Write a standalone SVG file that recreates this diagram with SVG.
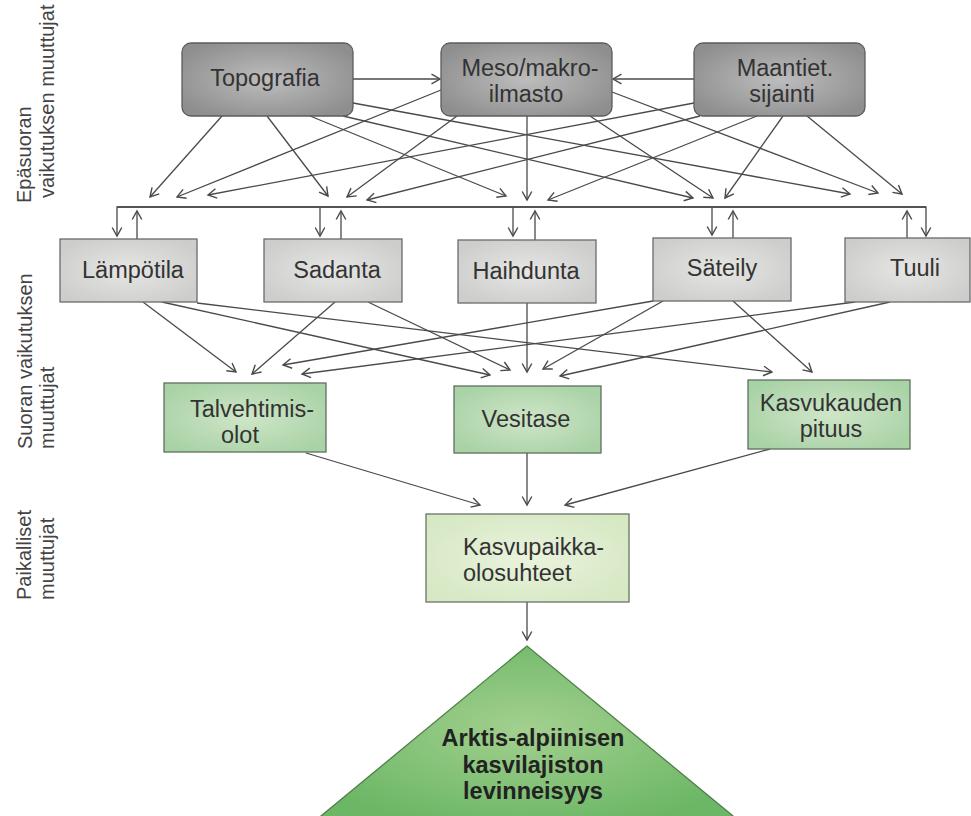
<svg xmlns="http://www.w3.org/2000/svg" width="971" height="816" viewBox="0 0 971 816">
  <style>
    .lbl { font-family: "Liberation Sans", Arial, sans-serif; font-size: 23.5px; fill: #333; }
    .side { font-family: "Liberation Sans", Arial, sans-serif; font-size: 20px; fill: #444; }
    .bold { font-family: "Liberation Sans", Arial, sans-serif; font-size: 23.5px; font-weight: bold; fill: #222; }
    .top { fill: url(#gTop); stroke: #5c5c5c; stroke-width: 1.3; }
    .mid { fill: url(#gMid); stroke: #6a6a6a; stroke-width: 1.3; }
    .grn { fill: url(#gGrn); stroke: #5f6f5f; stroke-width: 1.3; }
    .loc { fill: url(#gLoc); stroke: #6a7464; stroke-width: 1.3; }
    .edge { fill: none; stroke: #4a4a4a; stroke-width: 1.3; }
    .arr { marker-end: url(#ah); }
  </style>
  <defs>
    <radialGradient id="gTop" cx="0.5" cy="0.5" r="0.6">
      <stop offset="0" stop-color="#bdbdbd"/>
      <stop offset="1" stop-color="#8e8e8e"/>
    </radialGradient>
    <radialGradient id="gMid" cx="0.5" cy="0.5" r="0.6">
      <stop offset="0" stop-color="#e6e6e4"/>
      <stop offset="1" stop-color="#cdcdcb"/>
    </radialGradient>
    <radialGradient id="gGrn" cx="0.5" cy="0.5" r="0.6">
      <stop offset="0" stop-color="#cfe6c8"/>
      <stop offset="1" stop-color="#a9d2a6"/>
    </radialGradient>
    <radialGradient id="gLoc" cx="0.5" cy="0.5" r="0.6">
      <stop offset="0" stop-color="#eaf3dd"/>
      <stop offset="1" stop-color="#d6e8c4"/>
    </radialGradient>
    <radialGradient id="gTri" cx="0.5" cy="0.45" r="0.55">
      <stop offset="0" stop-color="#a3d08f"/>
      <stop offset="1" stop-color="#6cb766"/>
    </radialGradient>
    <marker id="ah" viewBox="-10 -6 12 12" refX="0" refY="0" markerWidth="12" markerHeight="12" markerUnits="userSpaceOnUse" orient="auto">
      <path d="M-8.5,-4.8 L0,0 L-8.5,4.8" fill="none" stroke="#4a4a4a" stroke-width="1.4"/>
    </marker>
  </defs>

  <rect width="971" height="816" fill="#ffffff"/>

  <!-- level captions on the left -->
  <g id="cap-indirect">
    <text class="side" transform="translate(31,203) rotate(-90)">Epäsuoran</text>
    <text class="side" transform="translate(54,198) rotate(-90)">vaikutuksen muuttujat</text>
  </g>
  <g id="cap-direct">
    <text class="side" transform="translate(32,449) rotate(-90)">Suoran vaikutuksen</text>
    <text class="side" transform="translate(54,449) rotate(-90)">muuttujat</text>
  </g>
  <g id="cap-local">
    <text class="side" transform="translate(31,600) rotate(-90)">Paikalliset</text>
    <text class="side" transform="translate(54,600) rotate(-90)">muuttujat</text>
  </g>

  <!-- connectors -->
  <g id="connectors" class="edge">
    <!-- between the indirect variables -->
    <line class="arr" x1="353" y1="79" x2="440" y2="79"/>
    <line class="arr" x1="694" y1="79" x2="613" y2="79"/>

    <!-- Topografia -->
    <line class="arr" x1="222" y1="116" x2="150" y2="197"/>
    <line class="arr" x1="267" y1="116" x2="328" y2="196"/>
    <line class="arr" x1="310" y1="116" x2="506" y2="196"/>
    <line class="arr" x1="343" y1="116" x2="693" y2="198"/>
    <line class="arr" x1="353" y1="103" x2="850" y2="194"/>
    <!-- Meso/makroilmasto -->
    <line class="arr" x1="441" y1="90" x2="177" y2="197"/>
    <line class="arr" x1="457" y1="116" x2="347" y2="197"/>
    <line class="arr" x1="527" y1="116" x2="527" y2="200"/>
    <line class="arr" x1="590" y1="116" x2="713" y2="198"/>
    <line class="arr" x1="612" y1="92" x2="878" y2="193"/>
    <!-- Maantieteellinen sijainti -->
    <line class="arr" x1="694" y1="103" x2="208" y2="195"/>
    <line class="arr" x1="700" y1="116" x2="367" y2="200"/>
    <line class="arr" x1="757" y1="116" x2="548" y2="200"/>
    <line class="arr" x1="783" y1="116" x2="725" y2="198"/>
    <line class="arr" x1="807" y1="116" x2="902" y2="194"/>

    <!-- shared bus over the direct variables -->
    <path class="arr" d="M926,207 H117 V236"/>
    <path class="arr" d="M117,207 H926 V236"/>
    <line class="arr" x1="320" y1="207" x2="320" y2="236"/>
    <line class="arr" x1="513" y1="207" x2="513" y2="236"/>
    <line class="arr" x1="712" y1="207" x2="712" y2="235"/>
    <line class="arr" x1="137" y1="239" x2="137" y2="211"/>
    <line class="arr" x1="341" y1="239" x2="341" y2="211"/>
    <line class="arr" x1="535" y1="240" x2="535" y2="211"/>
    <line class="arr" x1="733" y1="238" x2="733" y2="211"/>
    <line class="arr" x1="907" y1="238" x2="907" y2="211"/>

    <!-- direct variables to outcomes -->
    <line class="arr" x1="143" y1="302" x2="236" y2="372"/>
    <line class="arr" x1="162" y1="302" x2="490" y2="375"/>
    <line class="arr" x1="197" y1="303" x2="772" y2="372"/>
    <line class="arr" x1="335" y1="302" x2="252" y2="374"/>
    <line class="arr" x1="368" y1="302" x2="510" y2="370"/>
    <line class="arr" x1="527" y1="303" x2="527" y2="372"/>
    <line class="arr" x1="653" y1="301" x2="283" y2="365"/>
    <line class="arr" x1="663" y1="301" x2="543" y2="369"/>
    <line class="arr" x1="733" y1="301" x2="812" y2="372"/>
    <line class="arr" x1="855" y1="302" x2="302" y2="374"/>
    <line class="arr" x1="890" y1="302" x2="560" y2="376"/>

    <!-- outcomes to site conditions -->
    <line class="arr" x1="306" y1="453" x2="480" y2="505"/>
    <line class="arr" x1="527" y1="453" x2="527" y2="505"/>
    <line class="arr" x1="770" y1="449" x2="565" y2="505"/>
    <line class="arr" x1="527" y1="602" x2="527" y2="640"/>
  </g>

  <!-- indirect variables -->
  <g id="topografia">
    <rect class="top" x="182" y="43" width="171" height="73" rx="9"/>
    <text class="lbl" x="265" y="86" text-anchor="middle">Topografia</text>
  </g>
  <g id="meso-makroilmasto">
    <rect class="top" x="441" y="43" width="171" height="73" rx="9"/>
    <text class="lbl" x="530" y="76" text-anchor="middle">Meso/makro-</text>
    <text class="lbl" x="526" y="102" text-anchor="middle">ilmasto</text>
  </g>
  <g id="maantiet-sijainti">
    <rect class="top" x="694" y="43" width="171" height="73" rx="9"/>
    <text class="lbl" x="785" y="76" text-anchor="middle">Maantiet.</text>
    <text class="lbl" x="782" y="102" text-anchor="middle">sijainti</text>
  </g>

  <!-- direct variables -->
  <g id="lampotila">
    <rect class="mid" x="60" y="239" width="137" height="63"/>
    <text class="lbl" x="133" y="278" text-anchor="middle">Lämpötila</text>
  </g>
  <g id="sadanta">
    <rect class="mid" x="264" y="239" width="138" height="63"/>
    <text class="lbl" x="337" y="278" text-anchor="middle">Sadanta</text>
  </g>
  <g id="haihdunta">
    <rect class="mid" x="458" y="240" width="138" height="63"/>
    <text class="lbl" x="526" y="279" text-anchor="middle">Haihdunta</text>
  </g>
  <g id="sateily">
    <rect class="mid" x="653" y="238" width="138" height="63"/>
    <text class="lbl" x="722" y="276" text-anchor="middle">Säteily</text>
  </g>
  <g id="tuuli">
    <rect class="mid" x="845" y="238" width="125" height="64"/>
    <text class="lbl" x="915" y="276" text-anchor="middle">Tuuli</text>
  </g>

  <!-- outcomes -->
  <g id="talvehtimisolot">
    <rect class="grn" x="164" y="383" width="162" height="69"/>
    <text class="lbl" x="252" y="417" text-anchor="middle">Talvehtimis-</text>
    <text class="lbl" x="240" y="443" text-anchor="middle">olot</text>
  </g>
  <g id="vesitase">
    <rect class="grn" x="454" y="386" width="147" height="67"/>
    <text class="lbl" x="526" y="427" text-anchor="middle">Vesitase</text>
  </g>
  <g id="kasvukauden-pituus">
    <rect class="grn" x="748" y="380" width="162" height="69"/>
    <text class="lbl" x="831" y="411" text-anchor="middle">Kasvukauden</text>
    <text class="lbl" x="831" y="437" text-anchor="middle">pituus</text>
  </g>

  <!-- site conditions -->
  <g id="kasvupaikkaolosuhteet">
    <rect class="loc" x="426" y="514" width="203" height="88"/>
    <text class="lbl" x="463" y="555">Kasvupaikka-</text>
    <text class="lbl" x="463" y="581">olosuhteet</text>
  </g>

  <!-- distribution -->
  <g id="levinneisyys">
    <polygon points="527,646 304,830 750,830" fill="url(#gTri)" stroke="#4f7f4a" stroke-width="1.3"/>
    <text class="bold" x="533" y="746" text-anchor="middle">Arktis-alpiinisen</text>
    <text class="bold" x="533" y="773" text-anchor="middle">kasvilajiston</text>
    <text class="bold" x="533" y="799" text-anchor="middle">levinneisyys</text>
  </g>
</svg>
